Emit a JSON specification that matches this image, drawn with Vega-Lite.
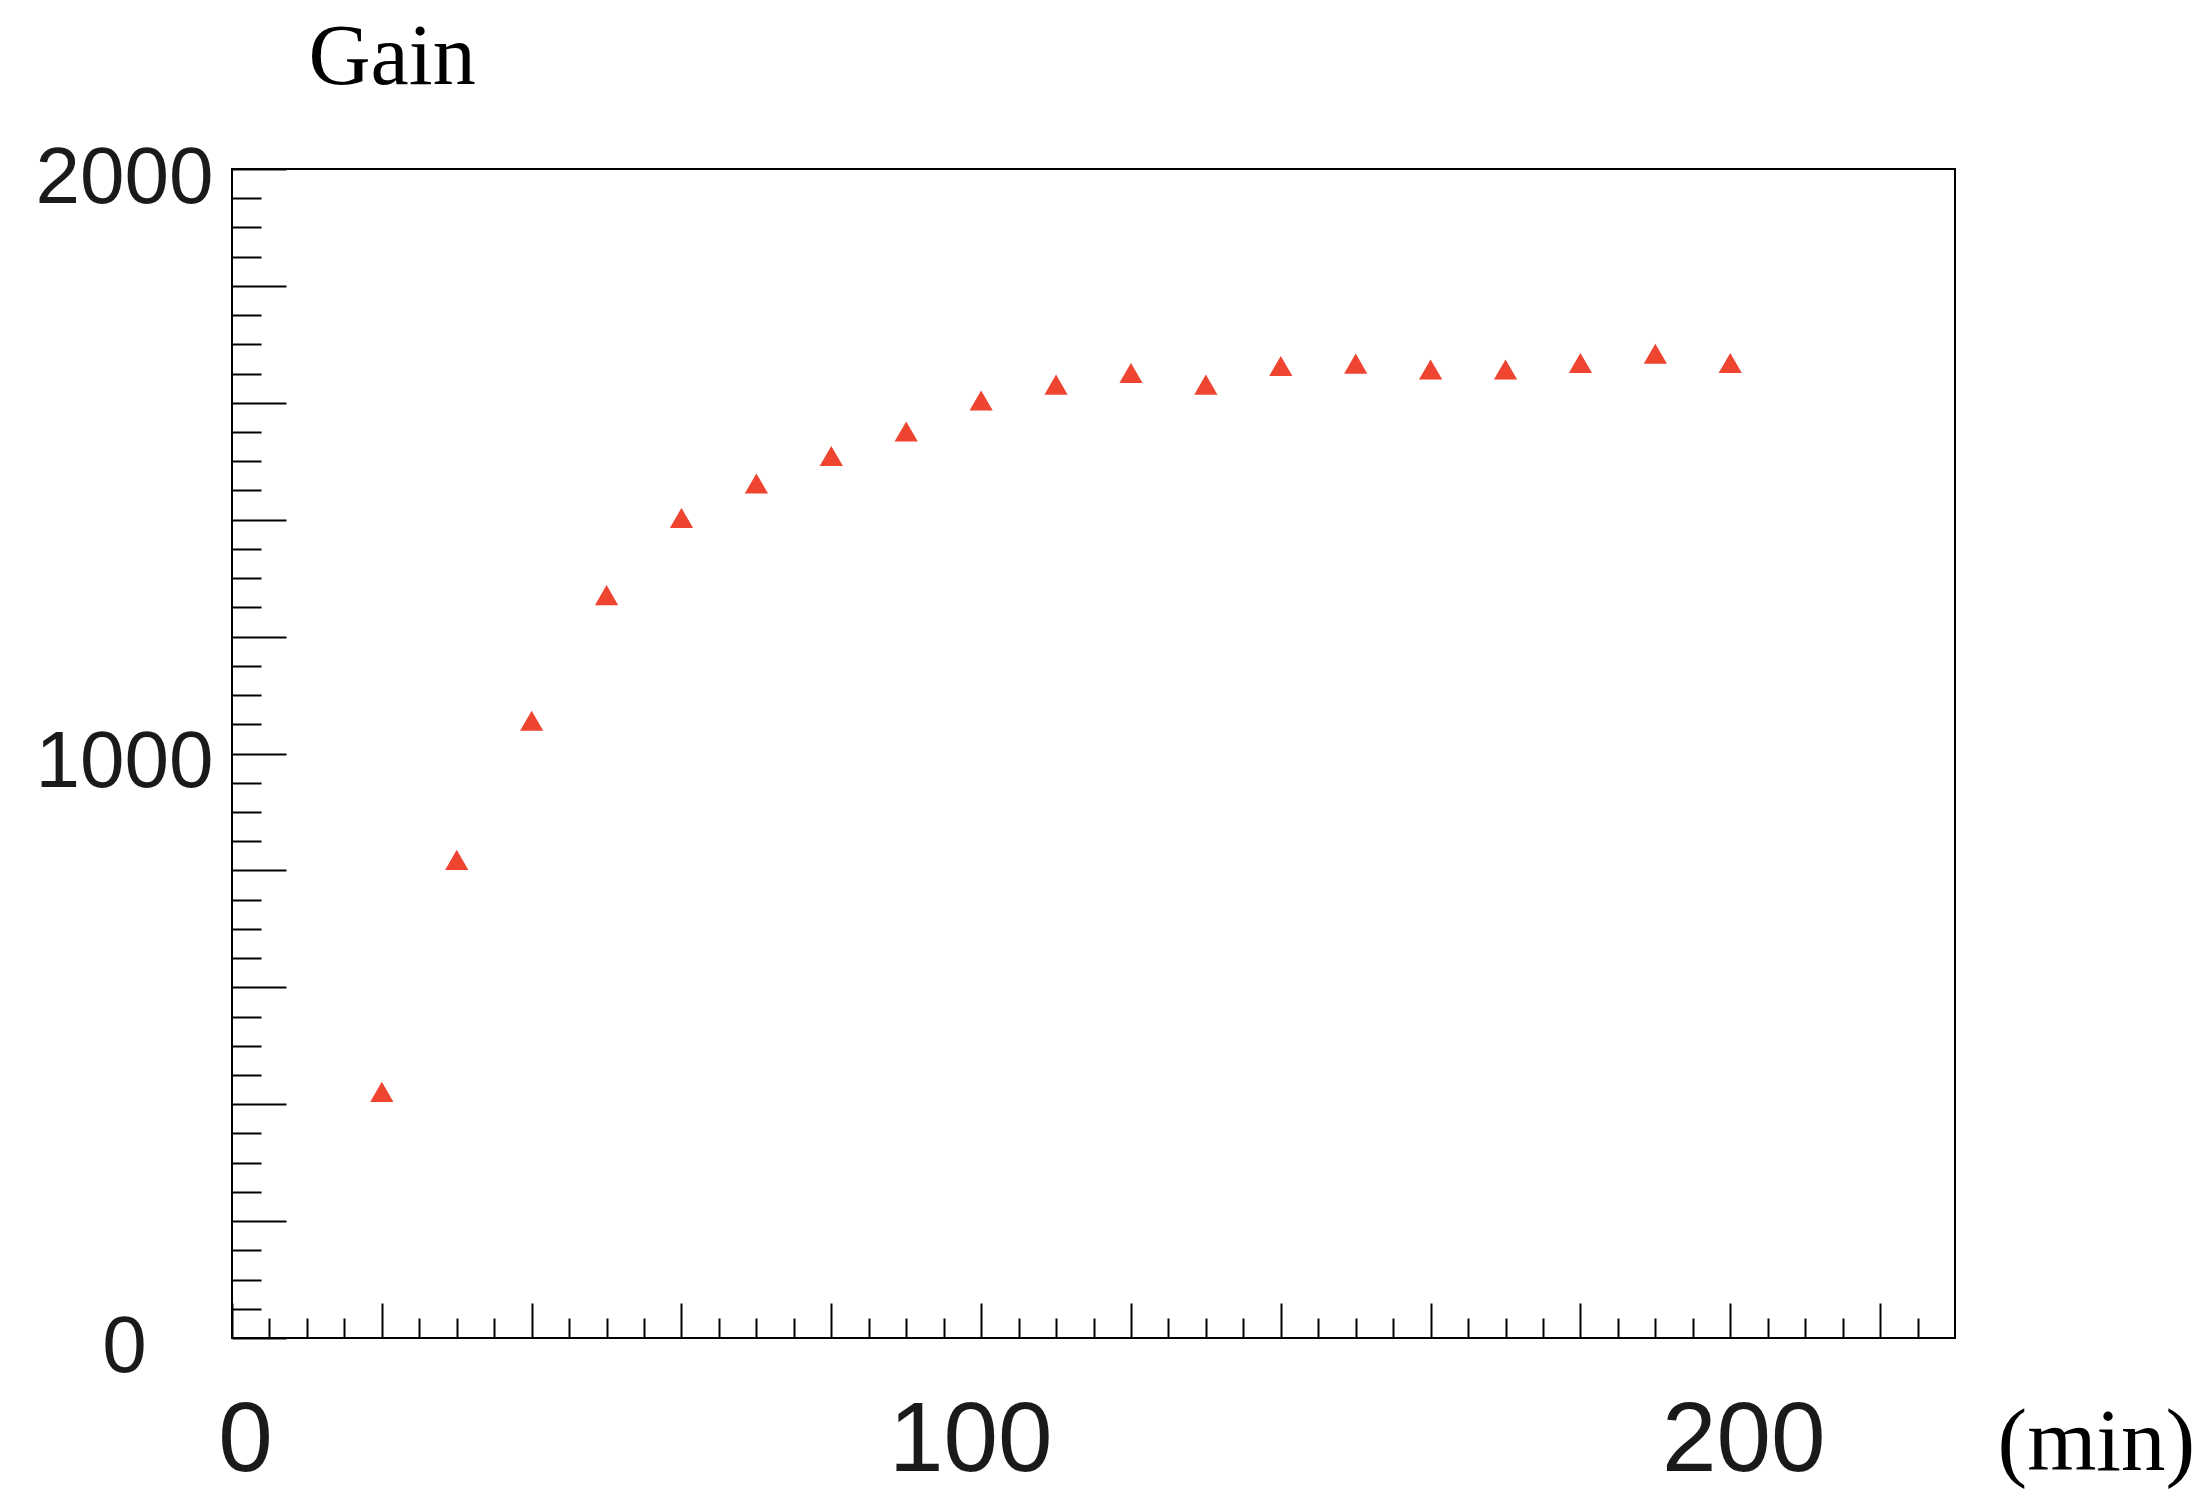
{
  "$schema": "https://vega.github.io/schema/vega-lite/v6.json",
  "width": 1723,
  "height": 1169,
  "autosize": {"type": "none"},
  "padding": {"left": 232, "top": 169, "right": 253, "bottom": 153},
  "background": "white",
  "config": {
    "view": {"stroke": "black", "strokeWidth": 2},
    "axis": {
      "domain": false,
      "grid": false,
      "tickColor": "black",
      "tickWidth": 2,
      "labelColor": "#1a1a1a",
      "labelFont": "Liberation Sans",
      "labelOverlap": false,
      "labelFlush": false,
      "labelLimit": 0,
      "titleFont": "Liberation Serif",
      "titleFontWeight": "normal",
      "titleColor": "black",
      "titleLimit": 0
    }
  },
  "data": {
    "values": [
      {"time": 20, "gain": 421},
      {"time": 30, "gain": 818},
      {"time": 40, "gain": 1056},
      {"time": 50, "gain": 1271},
      {"time": 60, "gain": 1403},
      {"time": 70, "gain": 1462},
      {"time": 80, "gain": 1509},
      {"time": 90, "gain": 1551},
      {"time": 100, "gain": 1604},
      {"time": 110, "gain": 1631},
      {"time": 120, "gain": 1651},
      {"time": 130, "gain": 1631},
      {"time": 140, "gain": 1663},
      {"time": 150, "gain": 1667},
      {"time": 160, "gain": 1657},
      {"time": 170, "gain": 1657},
      {"time": 180, "gain": 1668},
      {"time": 190, "gain": 1684},
      {"time": 200, "gain": 1668}
    ]
  },
  "mark": {
    "type": "point",
    "shape": "triangle-up",
    "filled": true,
    "size": 540,
    "color": "#ee4430",
    "opacity": 1
  },
  "encoding": {
    "x": {
      "field": "time",
      "type": "quantitative",
      "scale": {"domain": [0, 230], "nice": false, "zero": false},
      "axis": {
        "orient": "bottom",
        "title": "(min)",
        "titleFontSize": 89,
        "titleAngle": 0,
        "titleAlign": "left",
        "titleBaseline": "alphabetic",
        "titleX": 1765,
        "titleY": 131,
        "values": [0, 5, 10, 15, 20, 25, 30, 35, 40, 45, 50, 55, 60, 65, 70, 75, 80, 85, 90, 95, 100, 105, 110, 115, 120, 125, 130, 135, 140, 145, 150, 155, 160, 165, 170, 175, 180, 185, 190, 195, 200, 205, 210, 215, 220, 225],
        "tickSize": {"condition": {"test": "datum.value % 20 === 0", "value": -35}, "value": -20},
        "labelExpr": "datum.value % 100 === 0 ? datum.label : ''",
        "labelFontSize": 98,
        "labelBaseline": "alphabetic",
        "labelAlign": "center",
        "labelPadding": 167,
        "labelOffset": {"condition": {"test": "datum.value === 100", "value": -11}, "value": 13}
      }
    },
    "y": {
      "field": "gain",
      "type": "quantitative",
      "scale": {"domain": [0, 2000], "nice": false, "zero": false},
      "axis": {
        "orient": "left",
        "title": "Gain",
        "titleFontSize": 86,
        "titleAngle": 0,
        "titleAlign": "left",
        "titleBaseline": "alphabetic",
        "titleX": 76,
        "titleY": -86,
        "values": [0, 50, 100, 150, 200, 250, 300, 350, 400, 450, 500, 550, 600, 650, 700, 750, 800, 850, 900, 950, 1000, 1050, 1100, 1150, 1200, 1250, 1300, 1350, 1400, 1450, 1500, 1550, 1600, 1650, 1700, 1750, 1800, 1850, 1900, 1950, 2000],
        "tickSize": {"condition": {"test": "datum.value % 200 === 0", "value": -54}, "value": -29},
        "labelExpr": "datum.value % 1000 === 0 ? datum.label : ''",
        "format": "d",
        "labelFontSize": 80,
        "labelAlign": "center",
        "labelBaseline": "alphabetic",
        "labelPadding": 162,
        "labelOffset": 33
      }
    }
  }
}
